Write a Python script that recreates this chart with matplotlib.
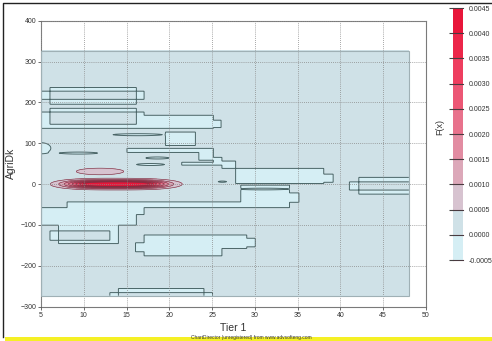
import numpy as np
import matplotlib
matplotlib.use("Agg")
import matplotlib.pyplot as plt
from matplotlib.colors import ListedColormap, BoundaryNorm
from matplotlib.patches import Rectangle

plt.rcParams['font.family'] = ['Liberation Sans', 'DejaVu Sans']

# F(x) bands and their colours (as in the colour bar)
levels = [-0.0005, 0.0, 0.0005, 0.0010, 0.0015, 0.0020, 0.0025, 0.0030, 0.0035, 0.0040, 0.0045]
band_colors = ["#d5eef4", "#cfe1e7", "#d7c3d0", "#dca8b9", "#e28ca2", "#e8728c", "#ec5775",
               "#ee3e5f", "#ec2649", "#e8163a"]

# extent of the surface
x_min, x_max = 5.0, 48.0
y_min, y_max = -273.0, 327.0
base_level = 0.0002

# rectangles where F(x) changes sign (x0, x1, y0, y1)
rects = [
    (6.0, 16.1, 196, 237), (5.0, 17.0, 208, 228),
    (6.0, 16.1, 147, 186), (5.0, 17.0, 137, 177), (17.0, 25.1, 137, 169), (25.1, 26.0, 139, 157),
    (19.5, 23.0, 95, 128),
    (15.0, 23.4, 78, 88), (23.4, 25.1, 59, 88), (25.1, 26.1, 47, 66), (26.1, 27.7, 39, 57),
    (21.4, 25.1, 47, 54),
    (27.7, 38.0, 2, 39), (38.0, 39.1, 5, 25),
    (28.3, 34.0, -43, -2), (8.0, 34.0, -57, -43), (34.0, 35.1, -44, -21),
    (5.0, 17.0, -74, -57), (5.0, 16.1, -100, -74),
    (6.0, 13.0, -137, -114), (7.0, 14.0, -145, -100),
    (17.0, 29.0, -157, -124), (29.0, 30.0, -153, -132), (17.0, 26.1, -175, -157), (16.0, 17.0, -165, -143),
    (14.0, 24.0, -273, -255), (13.0, 25.0, -273, -265),
    (42.1, 48.0, -24, 17), (41.0, 48.0, -14, 6),
]

# blobs (cx, cy, sx, sy, peak, power in x)
blobs = [
    (13.8, 0, 5.4, 8.4, 0.0055, 3),
    (11.9, 31, 3.0, 8.7, 0.0007, 2),
    (5.0, 88, 1.2, 14, -0.0005, 2),
    (9.4, 76, 2.3, 2.5, -0.0005, 2),
    (16.3, 121, 3.0, 2.5, -0.0005, 2),
    (18.6, 64, 1.4, 2.5, -0.0005, 2),
    (17.8, 48, 1.7, 2.5, -0.0005, 2),
    (31.0, -12, 3.5, 2.5, 0.0004, 2),
    (26.2, 6, 0.5, 1.5, -0.0005, 2),
]

x_ticks = list(range(5, 51, 5))
y_ticks = list(range(-300, 401, 100))

xs = np.arange(x_min, x_max + 0.001, 0.1)
ys = np.arange(y_min, y_max + 0.001, 1.0)
X, Y = np.meshgrid(xs, ys)

count = np.zeros_like(X)
for x0, x1, y0, y1 in rects:
    count += (X >= x0) & (X < x1) & (Y >= y0) & (Y < y1)
Z = np.where(count % 2 == 1, -base_level, base_level)
for cx, cy, sx, sy, pk, pw in blobs:
    Z = Z + pk * np.exp(-(np.abs(X - cx) / sx) ** pw - ((Y - cy) / sy) ** 2)
Z = np.clip(Z, -0.00045, 0.00449)

fig = plt.figure(figsize=(4.92, 3.41), dpi=100)
ax = fig.add_axes([0.0833, 0.1006, 0.7825, 0.8387])

cmap = ListedColormap(band_colors)
norm = BoundaryNorm(levels, cmap.N)
cf = ax.contourf(X, Y, Z, levels=levels, cmap=cmap, norm=norm)
ax.contour(X, Y, Z, levels=[0.0], colors="#4b6668", linewidths=0.7)
ax.contour(X, Y, Z, levels=levels[2:], colors="#7a3042", linewidths=0.45)
ax.add_patch(Rectangle((x_min, y_min), x_max - x_min, y_max - y_min, fill=False,
                       edgecolor="#9fb0b5", lw=0.8, zorder=3))

ax.set_xlim(5, 50)
ax.set_ylim(-300, 400)
ax.set_xticks(x_ticks)
ax.set_yticks(y_ticks)
ax.grid(True, color="#8a8a8a", linestyle=(0, (1, 1.5)), linewidth=0.6)
ax.set_axisbelow(False)
for s in ax.spines.values():
    s.set_color("#7a7a7a")
    s.set_linewidth(0.8)
ax.tick_params(labelsize=5, length=2.5, width=0.6, color="#555555", labelcolor="#333333", pad=1)
ax.set_xlabel("Tier 1", fontsize=7.5, color="#333333", labelpad=3)
ax.set_ylabel("AgriDk", fontsize=7.5, color="#333333", labelpad=3)

# colour bar
cax = fig.add_axes([0.921, 0.2375, 0.0203, 0.739])
cb = fig.colorbar(cf, cax=cax, ticks=levels)
cb.outline.set_visible(False)
cax.yaxis.set_ticks_position("left")
cax.tick_params(left=True, right=False, labelleft=False, labelright=True, length=3,
                width=0.8, color="#444444", labelsize=5, labelcolor="#333333", pad=1, direction="out")
cax.set_yticklabels([f"{v:.4f}" for v in levels])
for v in levels:
    cax.axhline(v, color="#4a3a40", lw=0.8, clip_on=False)
fig.text(440 / 492, 1 - 127 / 341, "F(x)", rotation=90, fontsize=6.5, color="#333333",
         ha="center", va="center")

# image frame and footer strip
fig.add_artist(plt.Line2D([3 / 492, 3 / 492, 1.0], [1 - 337 / 341, 1 - 3 / 341, 1 - 3 / 341],
                          color="#222222", lw=1.0))
fig.add_artist(Rectangle((5 / 492, 0), 1, 4 / 341, facecolor="#f5f025", edgecolor="none"))
fig.text(251 / 492, 1.5 / 341, "ChartDirector (unregistered) from www.advsofteng.com",
         fontsize=3.5, ha="center", va="bottom", color="#333333")

fig.savefig("out.png", dpi=100)
